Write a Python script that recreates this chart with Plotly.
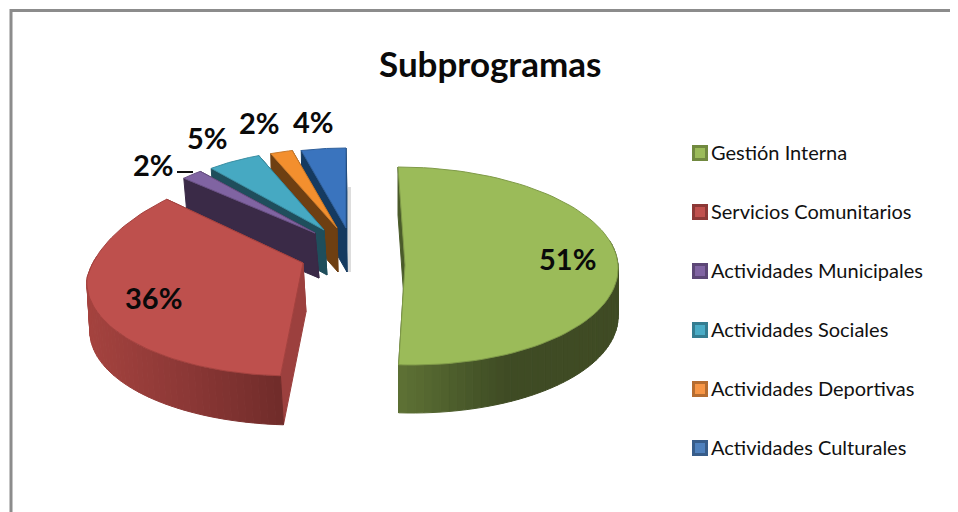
import math
import plotly.graph_objects as go

# ---- data ----
categories = ["Gestión Interna", "Servicios Comunitarios", "Actividades Municipales",
              "Actividades Sociales", "Actividades Deportivas", "Actividades Culturales"]
values = [51, 36, 2, 5, 2, 4]
title = "Subprogramas"

# ---- styles ----
top_colors = ["#9BBB59", "#BE504D", "#8064A2", "#46A9C2", "#F38F2E", "#3A74BE"]
edge_colors = ["#7F9A48", "#A5423F", "#6A5285", "#3B8FA3", "#C97A2C", "#2F5F9B"]
cut_colors = ["#4A5B2A", "#9C403E", "#3A2A47", "#1F4E5C", "#6E3F12", "#153A60"]
wall_stops = [[(0.0, "#5F7235"), (0.3, "#4A5A2B"), (0.5, "#3F4B24"), (1.0, "#3F4B24")],
              [(0.0, "#702C2A"), (0.5, "#8C3836"), (1.0, "#A5433F")], None, None, None, None]
legend_fill = ["#9BBB59", "#C0504D", "#8064A2", "#4BACC6", "#F79646", "#4F81BD"]
legend_edge = ["#71893F", "#8C3836", "#5C4776", "#357D91", "#B66D31", "#385D8A"]
geom = [
    dict(cx=405, cy=265, rx=213, ryb=98, ryf=100, skb=7, skf=7, off=0, depth=48, bx=0),
    dict(cx=303, cy=263, rx=216, ryb=115, ryf=98, skb=-31, skf=-9, off=15, depth=49, bx=3),
    dict(cx=315, cy=233, rx=180, ryb=80, ryf=80, skb=0, skf=0, off=0, depth=45, bx=4),
    dict(cx=324, cy=230, rx=177, ryb=80, ryf=80, skb=0, skf=0, off=0, depth=45, bx=3),
    dict(cx=337, cy=228, rx=180, ryb=80, ryf=80, skb=0, skf=0, off=0, depth=44, bx=1),
    dict(cx=346, cy=228, rx=180, ryb=80, ryf=80, skb=0, skf=0, off=0, depth=44, bx=1),
]
label_pos = [(567, 258), (153, 297), (153, 164), (207, 137), (259, 122), (313, 121)]
legend_rows = [153, 212, 271, 330, 389, 448]
FONT = "Lato"
# The page body has an 8px margin, so the axes start at 8 to stay in window pixels.
PAGE = 8
W, H = 958, 512


def hex2rgb(h):
    return tuple(int(h[i:i + 2], 16) for i in (1, 3, 5))


def ramp(stops, t):
    for (t0, c0), (t1, c1) in zip(stops, stops[1:]):
        if t <= t1:
            f = (t - t0) / (t1 - t0)
            a, b = hex2rgb(c0), hex2rgb(c1)
            return "rgb(%d,%d,%d)" % tuple(a[i] + (b[i] - a[i]) * f for i in range(3))
    return stops[-1][1]


def pt(g, theta, r=1.0, d=0.0):
    u, v = math.sin(theta) * r, -math.cos(theta) * r
    ry, sk = (g["ryf"], g["skf"]) if v >= 0 else (g["ryb"], g["skb"])
    return (g["cx"] + g["rx"] * u + sk * v + g["bx"] * d,
            g["cy"] + g["off"] * r + ry * v + g["depth"] * d)


def poly(xy, fill, line=None, width=1):
    xs = [p[0] for p in xy] + [xy[0][0]]
    ys = [p[1] for p in xy] + [xy[0][1]]
    return go.Scatter(x=xs, y=ys, mode="lines", fill="toself", fillcolor=fill,
                      line=dict(color=line or fill, width=width),
                      hoverinfo="skip", showlegend=False)


fig = go.Figure()

total = sum(values)
spans, acc = [], 0
for val in values:
    a0 = acc / total * 2 * math.pi
    acc += val
    spans.append((a0, acc / total * 2 * math.pi))

# painter's order: far slices first
for i in [5, 4, 3, 2, 1, 0]:
    g = geom[i]
    a0, a1 = spans[i]
    # cut faces
    for a in (a1, a0):
        fig.add_trace(poly([pt(g, a), pt(g, a, 0), pt(g, a, 0, 1), pt(g, a, 1, 1)], cut_colors[i]))
    # outer wall, shaded along the rim
    if wall_stops[i]:
        if i == 0:
            lo, hi = math.pi * 0.42, a1
            xl, xr = g["cx"] - 7, 618
        else:
            lo, hi = a0, math.pi * 1.56
            xl, xr = 87, 282
        n = 48
        for k in range(n):
            t0 = lo + (hi - lo) * k / n
            t1 = lo + (hi - lo) * (k + 1) / n
            mid = (pt(g, t0)[0] + pt(g, t1)[0]) / 2
            frac = (mid - xl) / (xr - xl) if i == 0 else (xr - mid) / (xr - xl)
            c = ramp(wall_stops[i], min(1, max(0, frac)))
            fig.add_trace(poly([pt(g, t0), pt(g, t1), pt(g, t1, 1, 1), pt(g, t0, 1, 1)], c))
    # top surface
    rim = [pt(g, a0 + (a1 - a0) * k / 80) for k in range(81)]
    fig.add_trace(poly(rim + [pt(g, a0, 0)], top_colors[i], edge_colors[i]))

# leader line of the small purple slice
fig.add_trace(go.Scatter(x=[177, 193], y=[172, 172], mode="lines",
                         line=dict(color="#111111", width=2), hoverinfo="skip", showlegend=False))

# percentage labels
for val, (lx, ly) in zip(values, label_pos):
    fig.add_annotation(x=lx, y=ly, text=f"{val}%", showarrow=False,
                       font=dict(family=FONT, size=29, color="#0a0a0a", weight="bold"))

# legend as marker + text
for name, fc, ec, ry in zip(categories, legend_fill, legend_edge, legend_rows):
    fig.add_trace(go.Scatter(x=[700], y=[ry], mode="markers", name=name, showlegend=False,
                             marker=dict(symbol="square", size=13, color=fc, line=dict(color=ec, width=3))))
    fig.add_annotation(x=711, y=ry - 1, text=name, showarrow=False, xanchor="left", xshift=-2,
                       font=dict(family=FONT, size=20, color="#111111"))

fig.add_annotation(x=490, y=63, text=title, showarrow=False,
                   font=dict(family=FONT, size=35, color="#0a0a0a", weight="bold"))

fig.update_layout(
    width=W, height=H, margin=dict(l=0, r=0, t=0, b=0), autosize=False,
    paper_bgcolor="white", plot_bgcolor="white", showlegend=False,
    xaxis=dict(range=[PAGE, W + PAGE], visible=False, fixedrange=True),
    yaxis=dict(range=[H + PAGE, PAGE], visible=False, fixedrange=True),
)
# frame and the soft shadow beside the last slice
fig.add_shape(type="rect", x0=348, x1=351, y0=187, y1=272, fillcolor="#DDDDDD", line_width=0, layer="below")
fig.add_shape(type="line", x0=10, x1=W + PAGE, y0=10.5, y1=10.5, line=dict(color="#8C8C8C", width=3))
fig.add_shape(type="line", x0=11, x1=11, y0=9, y1=H + PAGE, line=dict(color="#8C8C8C", width=3))
fig.write_html("out.html", config=dict(displayModeBar=False))
